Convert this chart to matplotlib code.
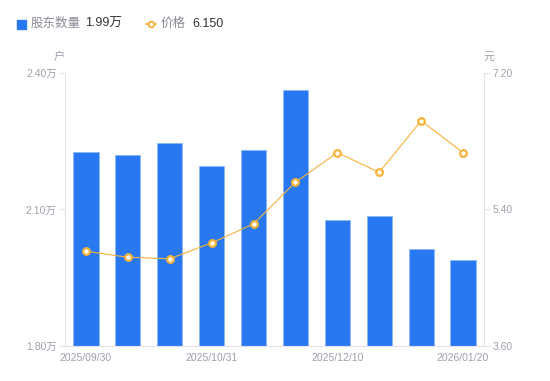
import numpy as np
import matplotlib
matplotlib.use('Agg')
import matplotlib.pyplot as plt
from matplotlib.lines import Line2D

plt.rcParams['font.family'] = ['Liberation Sans', 'Noto Sans CJK SC', 'DejaVu Sans']

# 股东户数(万户)与股价(元)
holders = [2.226, 2.220, 2.246, 2.196, 2.231, 2.363, 2.077, 2.086, 2.013, 1.990]
price = [4.85, 4.77, 4.75, 4.96, 5.21, 5.76, 6.15, 5.89, 6.57, 6.15]
tick_idx = [0, 3, 6, 9]
tick_labels = ['2025/09/30', '2025/10/31', '2025/12/10', '2026/01/20']
left_ticks = [1.80, 2.10, 2.40]
right_ticks = [3.60, 5.40, 7.20]

blue = '#2878f2'
orange = '#f7b23b'
grey = '#a0a0ad'
spine = '#e3e3e8'

W, H = 550, 381
fig = plt.figure(figsize=(W/100, H/100), dpi=100)
ax = fig.add_axes([65/W, (H-346)/H, 419/W, 273/H])
x = np.arange(len(holders))

ax.bar(x, holders, width=0.6, color=blue, edgecolor='#8db8f7', linewidth=0.6, zorder=2)
ax.set_ylim(1.80, 2.40)
ax.set_xlim(-0.5, len(holders) - 0.5)
ax.set_yticks(left_ticks)
ax.set_yticklabels(['%.2f万' % v for v in left_ticks])
ax.set_xticks(tick_idx)
ax.set_xticklabels(tick_labels)

ax2 = ax.twinx()
ax2.plot(x, price, color=orange, linewidth=0.8, marker='o', markersize=4.8,
         markerfacecolor='white', markeredgecolor=orange, markeredgewidth=1.6, zorder=3)
ax2.set_ylim(3.60, 7.20)
ax2.set_yticks(right_ticks)
ax2.set_yticklabels(['%.2f' % v for v in right_ticks])

for a in (ax, ax2):
    for s in a.spines.values():
        s.set_visible(False)
    a.tick_params(colors=grey, labelsize=7.5, length=4, width=0.8, color=spine, pad=2)
ax.spines['left'].set_visible(True)
ax.spines['left'].set_color(spine)
ax.spines['bottom'].set_visible(True)
ax.spines['bottom'].set_color(spine)
ax2.spines['right'].set_visible(True)
ax2.spines['right'].set_color(spine)
ax.tick_params(axis='x', length=0, pad=5)

fig.text(59/W, 1 - 57/H, '户', color=grey, fontsize=8, ha='center', va='center')
fig.text(489/W, 1 - 57/H, '元', color=grey, fontsize=8, ha='center', va='center')

# legend
fig.patches.append(plt.Rectangle((17/W, 1 - 29/H), 9/W, 9/H, transform=fig.transFigure,
                                 color=blue, figure=fig))
fig.text(31/W, 1 - 24/H, '股东数量', color='#8a8a96', fontsize=9, va='center')
fig.text(85/W, 1 - 24/H, '1.99万', color='#333333', fontsize=9, va='center')
fig.lines.append(Line2D([146/W, 151/W, 156/W], [1 - 24/H] * 3, transform=fig.transFigure,
                        color=orange, linewidth=1.2, marker='o', markersize=4,
                        markevery=[1], markerfacecolor='white', markeredgecolor=orange,
                        markeredgewidth=1.4))
fig.text(161/W, 1 - 24/H, '价格', color='#8a8a96', fontsize=9, va='center')
fig.text(192/W, 1 - 24/H, '6.150', color='#333333', fontsize=9, va='center')

fig.savefig('out.png', dpi=100)
